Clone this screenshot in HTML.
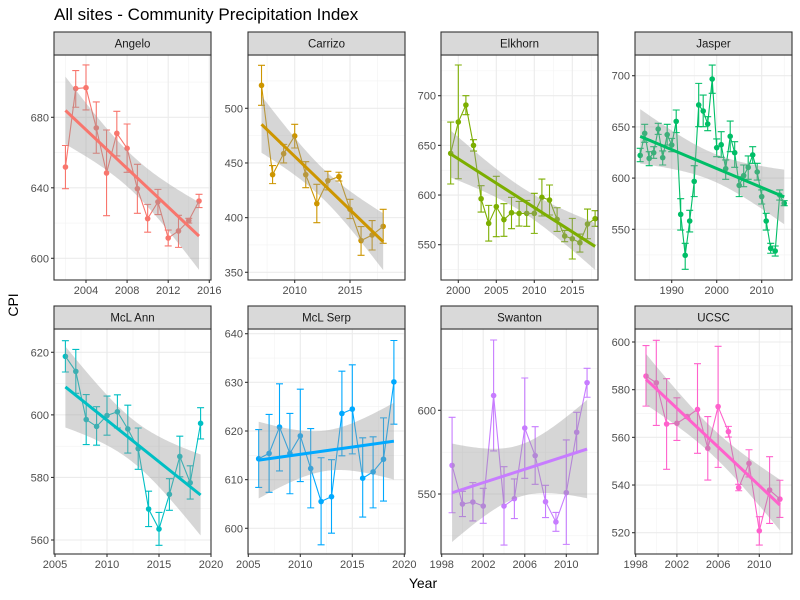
<!DOCTYPE html>
<html><head><meta charset="utf-8">
<style>
html,body{margin:0;padding:0;background:#fff;}
svg{display:block;font-family:"Liberation Sans",Arial,sans-serif;}
</style></head>
<body>
<svg id="chart" width="800" height="600" viewBox="0 0 800 600" xmlns="http://www.w3.org/2000/svg">
<rect width="800" height="600" fill="#fff"/>
<text x="54" y="20" font-size="17" fill="#000">All sites - Community Precipitation Index</text>
<text transform="translate(18,305) rotate(-90)" font-size="14" text-anchor="middle" fill="#000">CPI</text>
<text x="423" y="588" font-size="14" text-anchor="middle" fill="#000">Year</text>
</svg>
<script>
// ---- data: per site [year], [value], [lower], [upper] ----
const siteNames = ["Angelo","Carrizo","Elkhorn","Jasper","McL Ann","McL Serp","Swanton","UCSC"];
const siteColors = ["#F8766D","#CD9600","#7CAE00","#00BE67","#00BFC4","#00A9FF","#C77CFF","#FF61CC"];

const angeloYears = [2002,2003,2004,2005,2006,2007,2008,2009,2010,2011,2012,2013,2014,2015];
const angeloValues = [651.8,696.3,696.8,674.0,648.4,670.9,662.4,639.5,622.5,632.0,611.5,615.5,621.4,632.5];
const angeloLower = [639.5,685.7,684.2,659.6,624.2,658.1,648.8,625.5,614.8,624.8,607.0,606.2,620.0,628.8];
const angeloUpper = [664.0,706.5,709.7,688.7,672.8,683.4,676.2,653.3,630.6,639.1,616.0,624.4,622.7,636.3];

const carrizoYears = [2007,2008,2009,2010,2011,2012,2013,2014,2015,2016,2017,2018];
const carrizoValues = [521.0,439.3,458.5,474.7,439.3,412.8,433.8,437.5,407.6,379.0,384.1,392.0];
const carrizoLower = [502.7,431.1,450.0,463.7,427.4,395.4,425.3,433.5,399.1,365.5,370.4,376.5];
const carrizoUpper = [539.3,447.6,467.0,485.4,451.2,430.5,442.4,441.5,416.8,391.8,397.3,407.6];

const elkhornYears = [1999,2000,2001,2002,2003,2004,2005,2006,2007,2008,2009,2010,2011,2012,2013,2014,2015,2016,2017,2018];
const elkhornValues = [641.9,673.5,690.6,650.0,596.3,571.5,588.3,575.2,582.2,581.5,581.5,581.5,597.7,595.0,575.5,558.7,556.0,552.0,570.8,576.2];
const elkhornLower = [611.1,616.4,680.9,644.3,582.9,553.7,558.1,558.4,566.1,568.8,568.5,561.4,578.9,579.9,563.4,553.0,535.6,542.6,556.0,568.5];
const elkhornUpper = [673.5,730.9,700.0,655.7,609.4,589.6,618.8,591.3,597.7,593.6,594.6,601.7,616.1,610.1,587.2,564.4,576.5,560.7,585.9,584.2];

const jasperYears = [1983,1984,1985,1986,1987,1988,1989,1990,1991,1992,1993,1994,1995,1996,1997,1998,1999,2000,2001,2002,2003,2004,2005,2006,2007,2008,2009,2010,2011,2012,2013,2014,2015];
const jasperValues = [622.2,643.7,619.3,624.8,647.9,620.0,642.4,632.3,655.4,564.6,524.6,558.1,596.8,671.4,665.5,652.8,696.7,629.7,632.6,609.2,640.8,624.8,592.9,602.4,610.5,622.6,606.0,581.9,558.1,531.4,528.8,583.5,575.4];
const jasperLower = [616.0,634.9,612.1,619.3,642.7,612.8,632.3,625.8,644.4,549.3,510.9,547.4,581.9,650.2,650.2,646.3,682.8,620.9,620.3,598.8,625.8,610.5,581.9,591.6,598.8,614.4,598.1,574.7,549.3,526.6,523.9,578.6,573.1];
const jasperUpper = [629.1,652.5,625.8,630.7,653.5,626.5,652.5,638.8,666.5,579.9,536.3,568.5,612.1,692.5,681.1,660.0,710.4,638.2,645.3,617.7,655.7,635.6,601.4,612.8,621.6,630.7,614.4,588.4,565.6,536.3,533.7,588.4,578.0];

const mclAnnYears = [2006,2007,2008,2009,2010,2011,2012,2013,2014,2015,2016,2017,2018,2019];
const mclAnnValues = [618.7,613.9,598.5,596.3,599.8,601.0,595.5,589.2,569.9,563.5,574.6,586.7,578.3,597.3];
const mclAnnLower = [613.7,606.9,590.5,590.3,593.5,595.8,587.8,582.6,564.3,558.3,569.5,580.2,573.1,592.3];
const mclAnnUpper = [623.7,620.9,606.5,602.6,606.0,606.4,603.1,595.8,575.6,568.8,579.6,593.2,583.7,602.3];

const mclSerpYears = [2006,2007,2008,2009,2010,2011,2012,2013,2014,2015,2016,2017,2018,2019];
const mclSerpValues = [614.3,615.4,620.8,615.4,619.0,612.3,605.5,606.5,623.6,624.5,610.3,611.6,614.2,630.1];
const mclSerpLower = [608.4,607.4,611.8,607.1,609.6,604.2,596.6,599.0,614.9,615.3,602.3,604.2,605.6,621.4];
const mclSerpUpper = [620.3,623.4,629.7,623.6,628.6,620.5,614.5,614.1,632.3,633.6,618.6,618.8,622.7,638.6];

const swantonYears = [1999,2000,2001,2002,2003,2004,2005,2006,2007,2008,2009,2010,2011,2012];
const swantonValues = [567.1,544.0,545.2,542.8,608.8,542.8,547.2,589.4,572.9,545.4,533.3,550.8,586.9,616.5];
const swantonLower = [538.8,536.5,533.9,532.5,575.7,519.5,535.3,559.4,555.8,535.9,527.7,519.9,574.9,607.8];
const swantonUpper = [595.8,551.6,556.8,553.4,642.0,566.3,559.0,619.3,590.2,555.2,539.0,582.3,598.8,625.1];

const ucscYears = [1999,2000,2001,2002,2003,2004,2005,2006,2007,2008,2009,2010,2011,2012];
const ucscValues = [585.7,582.9,565.6,565.9,568.7,571.7,555.4,572.9,562.4,538.9,549.1,520.8,537.9,534.1];
const ucscLower = [573.1,565.0,546.6,558.7,568.0,553.3,542.1,547.4,560.1,537.6,543.4,514.8,523.9,526.4];
const ucscUpper = [598.5,600.7,584.6,576.6,569.4,590.9,568.7,598.2,564.6,540.3,554.8,526.7,551.9,542.0];

// tick labels
const angeloXTicks=[2004,2008,2012,2016], angeloYTicks=[600,640,680];
const carrizoXTicks=[2010,2015], carrizoYTicks=[350,400,450,500];
const elkhornXTicks=[2000,2005,2010,2015], elkhornYTicks=[550,600,650,700];
const jasperXTicks=[1990,2000,2010], jasperYTicks=[550,600,650,700];
const mclAnnXTicks=[2005,2010,2015,2020], mclAnnYTicks=[560,580,600,620];
const mclSerpXTicks=[2005,2010,2015,2020], mclSerpYTicks=[600,610,620,630,640];
const swantonXTicks=[1998,2002,2006,2010], swantonYTicks=[550,600];
const ucscXTicks=[1998,2002,2006,2010], ucscYTicks=[520,540,560,580,600];

const siteYears=[angeloYears,carrizoYears,elkhornYears,jasperYears,mclAnnYears,mclSerpYears,swantonYears,ucscYears];
const siteValues=[angeloValues,carrizoValues,elkhornValues,jasperValues,mclAnnValues,mclSerpValues,swantonValues,ucscValues];
const siteLower=[angeloLower,carrizoLower,elkhornLower,jasperLower,mclAnnLower,mclSerpLower,swantonLower,ucscLower];
const siteUpper=[angeloUpper,carrizoUpper,elkhornUpper,jasperUpper,mclAnnUpper,mclSerpUpper,swantonUpper,ucscUpper];
const siteXTicks=[angeloXTicks,carrizoXTicks,elkhornXTicks,jasperXTicks,mclAnnXTicks,mclSerpXTicks,swantonXTicks,ucscXTicks];
const siteYTicks=[angeloYTicks,carrizoYTicks,elkhornYTicks,jasperYTicks,mclAnnYTicks,mclSerpYTicks,swantonYTicks,ucscYTicks];

// ---- layout (pixel geometry; calibration: [value,px] pairs) ----
const layout=[
 {l:54,r:211,t:55,b:280,st:32,xc:[2004,86,2016,209.3],yc:[680,117.3,600,258.3]},
 {l:248,r:405,t:55,b:280,st:32,xc:[2010,294.7,2015,350],yc:[500,108.3,350,272.3]},
 {l:441,r:598,t:55,b:280,st:32,xc:[2000,458.3,2015,572.3],yc:[700,95.7,550,244.7]},
 {l:635,r:792,t:55,b:280,st:32,xc:[1990,671.7,2010,761.7],yc:[700,75.7,550,229.3]},
 {l:54,r:211,t:329,b:554,st:306,xc:[2005,55,2020,211],yc:[620,352.3,560,540]},
 {l:248,r:405,t:329,b:554,st:306,xc:[2005,248.3,2015,352.3],yc:[640,333.7,600,528.3]},
 {l:441,r:598,t:329,b:554,st:306,xc:[1998,441.7,2010,566.3],yc:[600,410.3,550,494]},
 {l:635,r:792,t:329,b:554,st:306,xc:[1998,635.7,2010,759.3],yc:[600,342,520,532.7]}
];
const svg=document.getElementById('chart');
const NS='http://www.w3.org/2000/svg';
function mk(tag,attrs,parent){const e=document.createElementNS(NS,tag);for(const k in attrs)e.setAttribute(k,attrs[k]);(parent||svg).appendChild(e);return e;}
function tq(df){return 1.96+2.37/df+2.8/(df*df);}

for(let i=0;i<8;i++){
  const L=layout[i], col=siteColors[i];
  const xs=siteYears[i], vs=siteValues[i], lo=siteLower[i], hi=siteUpper[i];
  const X=v=>L.xc[1]+(v-L.xc[0])*(L.xc[3]-L.xc[1])/(L.xc[2]-L.xc[0]);
  const Y=v=>L.yc[1]+(v-L.yc[0])*(L.yc[3]-L.yc[1])/(L.yc[2]-L.yc[0]);
  const slug=siteNames[i].toLowerCase().replace(/\s+/g,'-');
  const g=mk('g',{});
  
  
  const clipId='clip'+i;
  const cp=mk('clipPath',{id:clipId},g);
  mk('rect',{x:L.l,y:L.t,width:L.r-L.l,height:L.b-L.t},cp);
  const bg=mk('rect',{x:L.l,y:L.t,width:L.r-L.l,height:L.b-L.t,fill:'#fff'},g);
  
  
  const grid=mk('g',{'clip-path':'url(#'+clipId+')'},g);
  
  
  const xt=siteXTicks[i], yt=siteYTicks[i];
  const xs2=xt[1]-xt[0], ys2=yt[1]-yt[0];
  for(let k=-1;k<xt.length;k++){const m=xt[0]+(k+0.5)*xs2;mk('line',{x1:X(m),x2:X(m),y1:L.t,y2:L.b,stroke:'#f2f2f2','stroke-width':0.6},grid);}
  for(let k=-1;k<yt.length;k++){const m=yt[0]+(k+0.5)*ys2;mk('line',{x1:L.l,x2:L.r,y1:Y(m),y2:Y(m),stroke:'#f2f2f2','stroke-width':0.6},grid);}
  xt.forEach(t=>mk('line',{x1:X(t),x2:X(t),y1:L.t,y2:L.b,stroke:'#ebebeb','stroke-width':1.1},grid));
  yt.forEach(t=>mk('line',{x1:L.l,x2:L.r,y1:Y(t),y2:Y(t),stroke:'#ebebeb','stroke-width':1.1},grid));
  const data=mk('g',{'clip-path':'url(#'+clipId+')'},g);
  // error bars
  for(let j=0;j<xs.length;j++){
    const eb=mk('path',{d:`M${X(xs[j])-3.5},${Y(hi[j])}H${X(xs[j])+3.5}M${X(xs[j])},${Y(hi[j])}V${Y(lo[j])}M${X(xs[j])-3.5},${Y(lo[j])}H${X(xs[j])+3.5}`,stroke:col,'stroke-width':1.1,fill:'none'},data);
    
    
  }
  const ln=mk('polyline',{points:xs.map((x,j)=>X(x)+','+Y(vs[j])).join(' '),stroke:col,'stroke-width':1.1,fill:'none'},data);
  
  
  for(let j=0;j<xs.length;j++){
    const p=mk('circle',{cx:X(xs[j]),cy:Y(vs[j]),r:2.8,fill:col},data);
    
    
  }
  // linear fit + CI
  const n=xs.length, mx=xs.reduce((a,b)=>a+b)/n, my=vs.reduce((a,b)=>a+b)/n;
  let sxx=0,sxy=0;for(let j=0;j<n;j++){sxx+=(xs[j]-mx)**2;sxy+=(xs[j]-mx)*(vs[j]-my);}
  const b=sxy/sxx,a=my-b*mx;let sse=0;for(let j=0;j<n;j++)sse+=(vs[j]-a-b*xs[j])**2;
  const s=Math.sqrt(sse/(n-2)), t=tq(n-2);
  const x0=Math.min(...xs), x1=Math.max(...xs), up=[], dn=[];
  for(let k=0;k<=80;k++){const x=x0+(x1-x0)*k/80, f=a+b*x, se=s*Math.sqrt(1/n+(x-mx)**2/sxx);up.push(X(x)+','+Y(f+t*se));dn.unshift(X(x)+','+Y(f-t*se));}
  const band=mk('polygon',{points:up.concat(dn).join(' '),fill:'#999999','fill-opacity':0.4},data);
  
  
  const fit=mk('line',{x1:X(x0),y1:Y(a+b*x0),x2:X(x1),y2:Y(a+b*x1),stroke:col,'stroke-width':3},data);
  
  
  const border=mk('rect',{x:L.l,y:L.t,width:L.r-L.l,height:L.b-L.t,fill:'none',stroke:'#333','stroke-width':1.1},g);
  
  
  const strip=mk('rect',{x:L.l,y:L.st,width:L.r-L.l,height:L.t-L.st,fill:'#d9d9d9',stroke:'#333','stroke-width':1.1},g);
  
  
  const st=mk('text',{x:(L.l+L.r)/2,y:(L.st+L.t)/2+4,'text-anchor':'middle','font-size':11.5,fill:'#1a1a1a'},g);
  st.textContent=siteNames[i];
  
  
  xt.forEach(tv=>{
    const xx=X(tv);
    mk('line',{x1:xx,x2:xx,y1:L.b,y2:L.b+3,stroke:'#333','stroke-width':1.1},g);
    const tx=mk('text',{x:xx,y:L.b+14,'text-anchor':'middle','font-size':11,fill:'#4d4d4d'},g);
    tx.textContent=tv;
    
    
  });
  yt.forEach(tv=>{
    const yy=Y(tv);
    mk('line',{x1:L.l-3,x2:L.l,y1:yy,y2:yy,stroke:'#333','stroke-width':1.1},g);
    const ty=mk('text',{x:L.l-5,y:yy+4,'text-anchor':'end','font-size':11,fill:'#4d4d4d'},g);
    ty.textContent=tv;
    
    
  });
}
</script>
</body></html>
